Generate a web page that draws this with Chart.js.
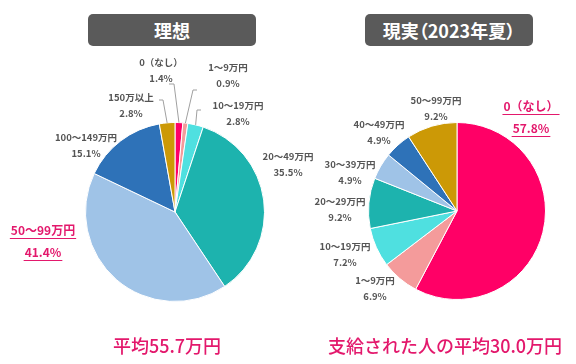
<!DOCTYPE html>
<html>
<head>
<meta charset="utf-8">
<script src="https://cdn.jsdelivr.net/npm/chart.js@4.4.0/dist/chart.umd.min.js"></script>
<style>
body { margin: 0; background: #fff; width: 576px; height: 364px; position: relative; overflow: hidden; font-family: "Noto Sans CJK JP", sans-serif; }
.box { position: absolute; top: 14px; height: 32px; background: #5a5a5a; border-radius: 5px; color: #fff; font-weight: bold; font-size: 18px; line-height: 32px; text-align: center; font-feature-settings: "palt"; }
.avg { position: absolute; top: 331px; height: 28px; line-height: 28px; color: #e3186c; font-size: 18px; font-weight: 500; text-align: center; }
canvas { position: absolute; top: 0; }
</style>
</head>
<body>
<div class="box" style="left:88px;width:168px">理想</div>
<div class="box" style="left:365px;width:168px">現実（2023年夏）</div>
<canvas id="ideal" width="340" height="364" style="left:0"></canvas>
<canvas id="real" width="288" height="364" style="left:288px"></canvas>
<div class="avg" style="left:47px;width:240px">平均55.7万円</div>
<div class="avg" style="left:315px;width:260px">支給された人の平均30.0万円</div>
<script>
// 理想
var idealLabels = ["0（なし）", "1〜9万円", "10〜19万円", "20〜49万円", "50〜99万円", "100〜149万円", "150万以上"];
var idealValues = [1.4, 0.9, 2.8, 35.5, 41.4, 15.1, 2.8];
var idealColors = ["#ff0066", "#f49b9b", "#4fe0e0", "#1db3ae", "#9fc3e7", "#2e72b8", "#cc9906"];

// 現実（2023年夏）
var realLabels = ["0（なし）", "1〜9万円", "10〜19万円", "20〜29万円", "30〜39万円", "40〜49万円", "50〜99万円"];
var realValues = [57.8, 6.9, 7.2, 9.2, 4.9, 4.9, 9.2];
var realColors = ["#ff0066", "#f49b9b", "#4fe0e0", "#1db3ae", "#9fc3e7", "#2e72b8", "#cc9906"];

// label placement, offsets from pie centre
var idealLabelPos = [[-14, -150], [53, -145], [63, -107], [113, -56], [-132, 18], [-89, -75], [-44, -115]];
var idealElbows = { 0: [-1, -128, -5], 1: [18, -122, 4], 2: [22, -102, 4], 6: [-12, -112, -4] };
var realLabelPos = [[74, -105], [-82, 69], [-112, 35], [-117, -10], [-107, -47], [-78, -87], [-21, -111]];

var pink = "#e3186c";

var sliceLabels = {
    id: 'sliceLabels',
    afterDatasetsDraw: function (chart, args, opts) {
        var ctx = chart.ctx;
        var meta = chart.getDatasetMeta(0);
        var values = chart.data.datasets[0].data;
        ctx.save();
        meta.data.forEach(function (arc, i) {
            var p = arc.getProps(['x', 'y', 'startAngle', 'endAngle', 'outerRadius'], true);
            var pos = opts.pos[i];
            var lx = p.x + pos[0], ly = p.y + pos[1];
            var lines = [chart.data.labels[i], values[i].toFixed(1) + "%"];
            var hot = opts.highlight === i;
            ctx.textAlign = 'center';
            ctx.textBaseline = 'middle';
            if (hot) {
                ctx.font = "bold 12px 'Noto Sans CJK JP'";
                ctx.fillStyle = pink;
                ctx.strokeStyle = pink;
                ctx.lineWidth = 1;
                lines.forEach(function (t, k) {
                    var y = ly + k * 22;
                    ctx.fillText(t, lx, y);
                    var w = ctx.measureText(t).width;
                    ctx.beginPath();
                    ctx.moveTo(lx - w / 2 - 1, y + 8.5);
                    ctx.lineTo(lx + w / 2 + 1, y + 8.5);
                    ctx.stroke();
                });
            } else {
                ctx.font = "bold 9.5px 'Noto Sans CJK JP'";
                ctx.fillStyle = "#555";
                lines.forEach(function (t, k) {
                    ctx.fillText(t, lx, ly + k * 16);
                });
            }
            var el = opts.elbows && opts.elbows[i];
            if (el) {
                var mid = (p.startAngle + p.endAngle) / 2;
                var ax = p.x + Math.cos(mid) * p.outerRadius;
                var ay = p.y + Math.sin(mid) * p.outerRadius;
                ctx.strokeStyle = "#a0a0a0";
                ctx.lineWidth = 1;
                ctx.beginPath();
                ctx.moveTo(ax, ay);
                ctx.lineTo(p.x + el[0], p.y + el[1]);
                ctx.lineTo(p.x + el[0] + el[2], p.y + el[1]);
                ctx.stroke();
            }
        });
        ctx.restore();
    }
};

function makePie(id, labels, values, colors, pad, labelOpts) {
    return new Chart(document.getElementById(id), {
        type: 'pie',
        data: {
            labels: labels,
            datasets: [{
                data: values,
                backgroundColor: colors,
                borderColor: "#fff",
                borderWidth: 1
            }]
        },
        options: {
            responsive: false,
            animation: false,
            devicePixelRatio: 1,
            layout: { padding: pad },
            plugins: {
                legend: { display: false },
                tooltip: { enabled: false },
                sliceLabels: labelOpts
            }
        },
        plugins: [sliceLabels]
    });
}

makePie('ideal', idealLabels, idealValues, idealColors,
    { left: 85, right: 75, top: 122, bottom: 62 },
    { pos: idealLabelPos, elbows: idealElbows, highlight: 4 });
makePie('real', realLabels, realValues, realColors,
    { left: 80, right: 30, top: 122, bottom: 64 },
    { pos: realLabelPos, highlight: 0 });
</script>
</body>
</html>
